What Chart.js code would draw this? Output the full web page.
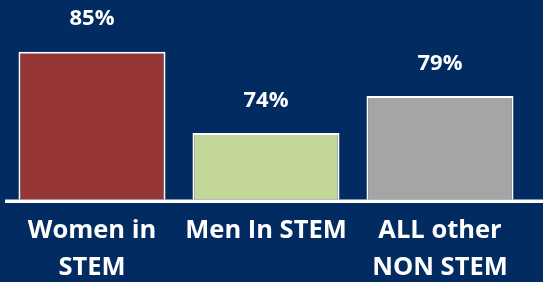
<!DOCTYPE html>
<html>
<head>
<meta charset="utf-8">
<script src="https://cdn.jsdelivr.net/npm/chart.js@4/dist/chart.umd.min.js"></script>
<style>
  html, body { margin: 0; padding: 0; background: #022b62; }
  canvas { display: block; }
</style>
</head>
<body>
<canvas id="chart" width="543" height="282"></canvas>
<script>
const categories = [["Women in", "STEM"], ["Men In STEM"], ["ALL other", "NON STEM"]];
const values = [85, 74, 79];
const barColors = ["#963735", "#c4d79b", "#a5a5a5"];
const axisMin = 65;
const axisMax = 92;

const bgColor = "#022b62";

// background + white base line + value labels
const decorate = {
  id: "decorate",
  beforeDraw(chart) {
    const ctx = chart.ctx;
    ctx.save();
    ctx.fillStyle = bgColor;
    ctx.fillRect(0, 0, chart.width, chart.height);
    ctx.restore();
  },
  afterDatasetsDraw(chart) {
    const ctx = chart.ctx;
    const y = chart.scales.y;
    const base = y.getPixelForValue(axisMin);
    ctx.save();
    ctx.fillStyle = "#ffffff";
    ctx.fillRect(chart.chartArea.left, base, chart.width - chart.chartArea.left, 3.5);

    ctx.font = "bold 22px 'Open Sans'";
    ctx.textAlign = "center";
    ctx.textBaseline = "middle";
    const meta = chart.getDatasetMeta(0);
    meta.data.forEach((bar, i) => {
      ctx.fillText(values[i] + "%", bar.x, bar.y - 32.5);
    });
    ctx.restore();
  }
};

new Chart(document.getElementById("chart"), {
  type: "bar",
  data: {
    labels: categories,
    datasets: [
      {
        data: values,
        backgroundColor: barColors,
        borderColor: "#ffffff",
        borderWidth: 2,
        barPercentage: 0.845,
        categoryPercentage: 1,
      },
    ],
  },
  options: {
    responsive: false,
    animation: false,
    layout: { padding: { left: 5, right: 16, top: 0, bottom: 0 } },
    plugins: {
      legend: { display: false },
      tooltip: { enabled: false },
    },
    scales: {
      x: {
        grid: { display: false, drawTicks: false },
        border: { display: false },
        ticks: {
          color: "#ffffff",
          padding: 13.5,
          font: { family: "'Open Sans'", size: 25.5, weight: "bold", lineHeight: 1.42 },
        },
        afterFit(scale) {
          scale.height = 82.5;
        },
      },
      y: {
        display: false,
        min: axisMin,
        max: axisMax,
      },
    },
  },
  plugins: [decorate],
});
</script>
</body>
</html>
